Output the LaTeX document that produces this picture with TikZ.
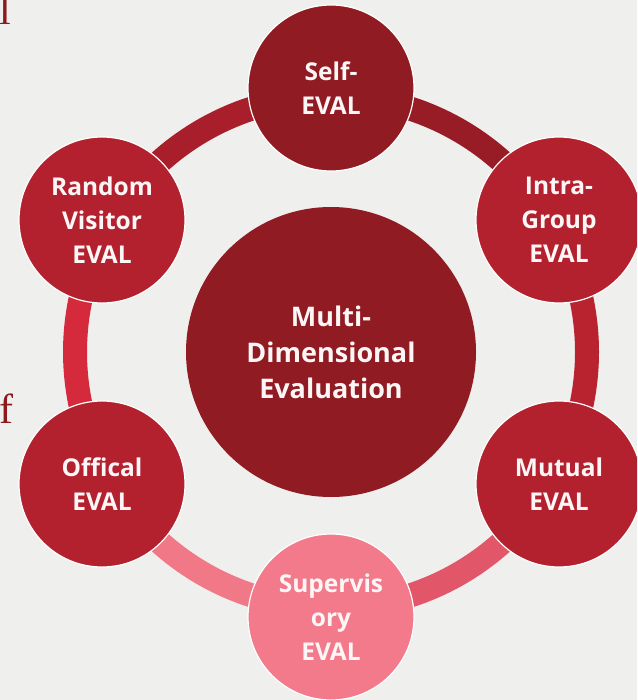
\documentclass[tikz,border=0pt]{standalone}
\usepackage{fontspec}
\setmainfont{Open Sans}
\newfontfamily\serifletters{Liberation Serif}
\definecolor{bgpaper}{HTML}{EFEFEE}
\definecolor{darkred}{HTML}{901B23}
\definecolor{midred}{HTML}{B3212F}
\definecolor{pinkred}{HTML}{F27A8A}
\definecolor{segA}{HTML}{981C25}
\definecolor{segB}{HTML}{B8232F}
\definecolor{segC}{HTML}{E2566A}
\definecolor{segD}{HTML}{F07887}
\definecolor{segE}{HTML}{D42A3C}
\definecolor{segF}{HTML}{A81E2A}
\definecolor{txtwhite}{HTML}{FDF6F6}
\definecolor{lettercol}{HTML}{8B1A1F}
\tikzset{
  ringseg/.style={line width=24pt},
  outer/.style={circle, minimum size=166pt, inner sep=0pt, draw=white, line width=1.2pt,
    text=txtwhite, font=\bfseries\fontsize{24.5}{34}\selectfont, align=center},
  inner/.style={circle, minimum size=290pt, inner sep=0pt, fill=darkred,
    text=txtwhite, font=\bfseries\fontsize{27}{36}\selectfont, align=center},
  frag/.style={inner sep=0pt, text=lettercol, font=\serifletters\fontsize{42}{42}\selectfont, anchor=base west}
}
\begin{document}
\begin{tikzpicture}[x=1pt,y=-1pt]
\useasboundingbox (0,0) rectangle (637,700);
\clip (0,0) rectangle (637,700);
\fill[bgpaper] (0,0) rectangle (637,700);
\coordinate (ctr) at (331,352);
% text fragments at the left edge
\node[frag] (fragl) at (-1,25) {l};
\node[frag] (fragf) at (-1,423) {f};
% ring segments (y axis points down, so angles are mirrored)
\draw[ringseg, segA] ([shift={(-90:256)}]ctr) arc[start angle=-90, end angle=-30, radius=256];
\draw[ringseg, segB] ([shift={(-30:256)}]ctr) arc[start angle=-30, end angle=30, radius=256];
\draw[ringseg, segC] ([shift={(30:256)}]ctr) arc[start angle=30, end angle=90, radius=256];
\draw[ringseg, segD] ([shift={(90:256)}]ctr) arc[start angle=90, end angle=150, radius=256];
\draw[ringseg, segE] ([shift={(150:256)}]ctr) arc[start angle=150, end angle=210, radius=256];
\draw[ringseg, segF] ([shift={(210:256)}]ctr) arc[start angle=210, end angle=270, radius=256];
% circles
\node[inner] (multi) at (ctr) {Multi-\\Dimensional\\Evaluation};
\node[outer, fill=darkred] (self) at (331,88) {Self-\\EVAL};
\node[outer, fill=midred] (intra) at (559,220) {Intra-\\Group\\EVAL};
\node[outer, fill=midred] (mutual) at (559,484) {Mutual\\EVAL};
\node[outer, fill=pinkred] (super) at (331,617) {Supervis\\ory\\EVAL};
\node[outer, fill=midred] (offical) at (102,484) {Offical\\EVAL};
\node[outer, fill=midred] (random) at (102,220) {Random\\Visitor\\EVAL};
\end{tikzpicture}
\end{document}
